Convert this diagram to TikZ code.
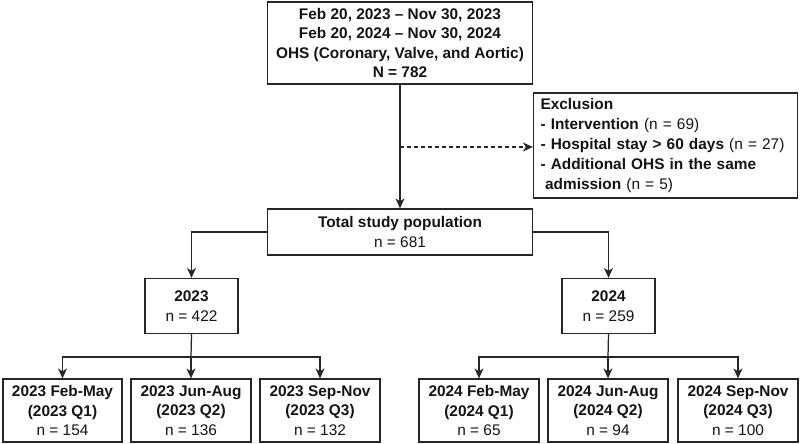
\documentclass[tikz,border=0pt]{standalone}
\usepackage{fontspec}
\setmainfont{Liberation Sans}
\usetikzlibrary{arrows.meta,positioning}
\definecolor{linec}{HTML}{262626}
\definecolor{textc}{HTML}{141414}
\tikzset{
  box/.style={draw=linec, line width=1.25pt, fill=white, inner sep=0pt, align=center,
    text=textc, font=\fontsize{15.4}{19.4}\selectfont},
  conn/.style={draw=linec, line width=1.25pt},
  arr/.style={conn, -{Stealth[length=10pt,width=9pt,inset=3pt]}},
  dasharr/.style={arr, dash pattern=on 4pt off 3pt}
}
\begin{document}
\begin{tikzpicture}[x=1pt,y=-1pt]
\useasboundingbox (0,0) rectangle (800,444);
\node[box, minimum width=265pt, minimum height=82pt] (top) at (400,43)
  {\bfseries Feb 20, 2023 -- Nov 30, 2023\\\bfseries Feb 20, 2024 -- Nov 30, 2024\\\bfseries OHS (Coronary, Valve, and Aortic)\\\bfseries N = 782};
\node[box, minimum width=264pt, minimum height=105pt, align=left, text width=250pt, inner xsep=7pt,
  font=\fontsize{15.4}{20}\selectfont] (excl) at (665.5,145.5)
  {\textbf{Exclusion}\\
   \textbf{- Intervention} (n = 69)\\
   \textbf{- Hospital stay > 60 days} (n = 27)\\
   \textbf{- Additional OHS in the same}\\
   \hspace*{0.3em}\textbf{admission} (n = 5)};
\node[box, minimum width=265pt, minimum height=46pt] (total) at (400,232)
  {\textbf{Total study population}\\n = 681};
\node[box, minimum width=93pt, minimum height=55pt] (y23) at (191.5,306) {\textbf{2023}\\n = 422};
\node[box, minimum width=93pt, minimum height=55pt] (y24) at (608.5,306) {\textbf{2024}\\n = 259};
\node[box, minimum width=119pt, minimum height=63pt] (a1) at (62.5,410.5) {\textbf{2023 Feb-May}\\\textbf{(2023 Q1)}\\n = 154};
\node[box, minimum width=120pt, minimum height=63pt] (a2) at (191,410.5) {\textbf{2023 Jun-Aug}\\\textbf{(2023 Q2)}\\n = 136};
\node[box, minimum width=120pt, minimum height=63pt] (a3) at (320,410.5) {\textbf{2023 Sep-Nov}\\\textbf{(2023 Q3)}\\n = 132};
\node[box, minimum width=120pt, minimum height=63pt] (b1) at (479,410.5) {\textbf{2024 Feb-May}\\\textbf{(2024 Q1)}\\n = 65};
\node[box, minimum width=120pt, minimum height=63pt] (b2) at (608,410.5) {\textbf{2024 Jun-Aug}\\\textbf{(2024 Q2)}\\n = 94};
\node[box, minimum width=120pt, minimum height=63pt] (b3) at (738,410.5) {\textbf{2024 Sep-Nov}\\\textbf{(2024 Q3)}\\n = 100};
% connectors
\draw[arr] (top.south) -- (total.north);
\coordinate (d) at (400,147);
\draw[dasharr] (d) -- (d -| excl.west);
\draw[arr] (total.west) -| (y23.north);
\draw[arr] (total.east) -| (y24.north);
\coordinate (s23) at (191,357);
\coordinate (s24) at (608,357);
\draw[conn] (y23.south) -- (s23);
\draw[arr] (s23) -| (a1.north);
\draw[arr] (s23) -| (a3.north);
\draw[arr] (s23) -- (a2.north);
\draw[conn] (y24.south) -- (s24);
\draw[arr] (s24) -| (b1.north);
\draw[arr] (s24) -| (b3.north);
\draw[arr] (s24) -- (b2.north);
\end{tikzpicture}
\end{document}
